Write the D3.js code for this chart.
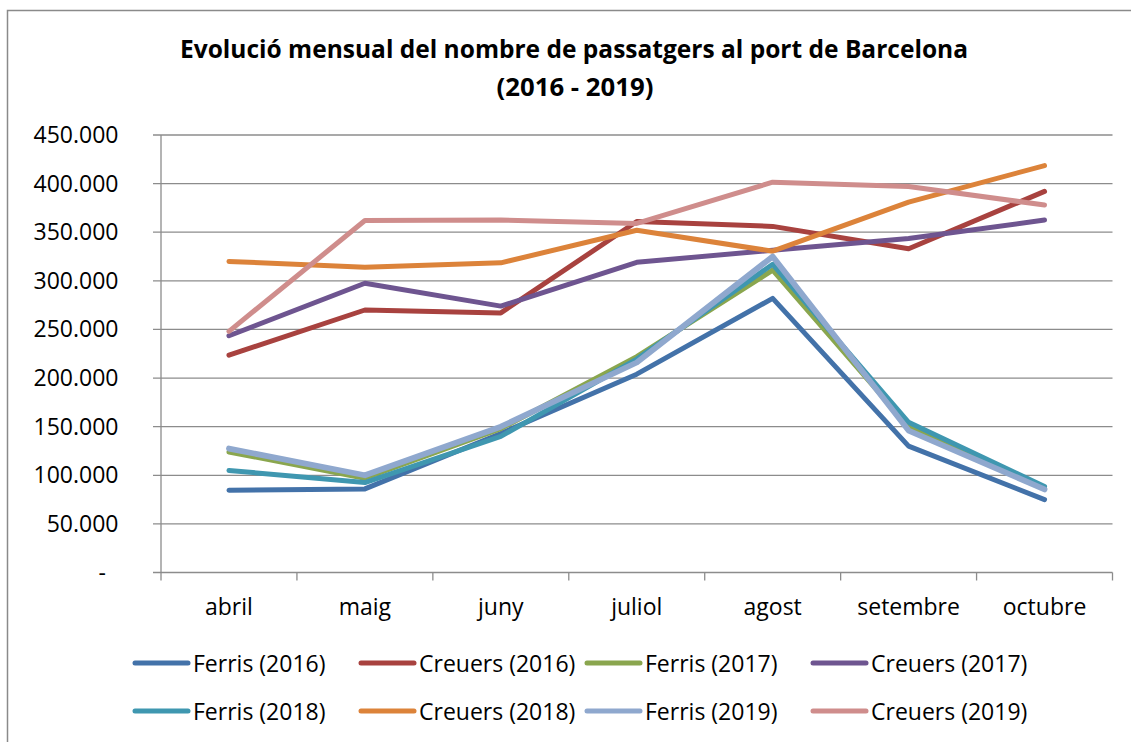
<!DOCTYPE html>
<html>
<head>
<meta charset="utf-8">
<script src="https://cdn.jsdelivr.net/npm/d3@7"></script>
<style>
  html, body { margin: 0; padding: 0; background: #fff; }
  svg { display: block; }
  text { font-family: "Open Sans", "Noto Sans", sans-serif; fill: #000; }
</style>
</head>
<body>
<svg id="chart" width="1131" height="742"></svg>
<script>
const months = ["abril", "maig", "juny", "juliol", "agost", "setembre", "octubre"];
const yTicks = [0, 50000, 100000, 150000, 200000, 250000, 300000, 350000, 400000, 450000];

const ferris2016  = [84600, 86000, 143000, 204000, 282000, 130000, 75000];
const creuers2016 = [223500, 270000, 267000, 361000, 356000, 333000, 392000];
const ferris2017  = [124000, 97000, 148000, 222000, 311000, 150000, 86000];
const creuers2017 = [243500, 297500, 274000, 319000, 331500, 343500, 362500];
const ferris2018  = [105000, 92500, 140000, 219500, 317000, 154500, 88500];
const creuers2018 = [320000, 314000, 318500, 352000, 330500, 381000, 418500];
const ferris2019  = [127500, 100000, 150000, 216000, 325000, 146000, 85500];
const creuers2019 = [248000, 362000, 362500, 359000, 401500, 397000, 378000];

const seriesNames = ["Ferris (2016)", "Creuers (2016)", "Ferris (2017)", "Creuers (2017)",
                     "Ferris (2018)", "Creuers (2018)", "Ferris (2019)", "Creuers (2019)"];
const seriesValues = [ferris2016, creuers2016, ferris2017, creuers2017,
                      ferris2018, creuers2018, ferris2019, creuers2019];
const seriesColors = ["#4372A9", "#A8423F", "#8AA64E", "#6E5590",
                      "#3F97B0", "#DC833A", "#8FA8CE", "#CF8D8C"];

const svg = d3.select("#chart");

// outer border
svg.append("rect").attr("x", 7.5).attr("y", 10.5).attr("width", 1140).attr("height", 760)
  .attr("fill", "none").attr("stroke", "#8a8a8a").attr("stroke-width", 1.5);

const plotLeft = 161, plotRight = 1112.5, plotTop = 135, plotBottom = 572.5;

const x = d3.scaleBand().domain(months).range([plotLeft, plotRight]);
const y = d3.scaleLinear().domain([0, 450000]).range([plotBottom, plotTop]);

const fmt = v => v === 0 ? "-" : d3.format(",")(v).replace(/,/g, ".");

// gridlines + y ticks
const gy = svg.append("g");
gy.selectAll("line.grid").data(yTicks).join("line")
  .attr("x1", plotLeft - 8).attr("x2", plotRight)
  .attr("y1", d => y(d)).attr("y2", d => y(d))
  .attr("stroke", "#8c8c8c").attr("stroke-width", 1.3);

// y axis line
svg.append("line").attr("x1", plotLeft).attr("x2", plotLeft).attr("y1", plotTop).attr("y2", plotBottom)
  .attr("stroke", "#8c8c8c").attr("stroke-width", 1.3);

// y labels
gy.selectAll("text").data(yTicks).join("text")
  .attr("x", d => d === 0 ? 106 : 118.5)
  .attr("y", d => y(d) + 8)
  .attr("text-anchor", "end")
  .attr("font-size", 23)
  .text(fmt);

// x axis ticks (band boundaries)
const bounds = months.map(m => x(m)).concat([plotRight]);
svg.append("g").selectAll("line").data(bounds).join("line")
  .attr("x1", d => d).attr("x2", d => d).attr("y1", plotBottom).attr("y2", plotBottom + 8)
  .attr("stroke", "#8c8c8c").attr("stroke-width", 1.3);

// x labels
svg.append("g").selectAll("text").data(months).join("text")
  .attr("x", d => x(d) + x.bandwidth() / 2)
  .attr("y", 615)
  .attr("text-anchor", "middle")
  .attr("font-size", 23)
  .text(d => d);

// lines
const line = d3.line()
  .x((d, i) => x(months[i]) + x.bandwidth() / 2)
  .y(d => y(d));

svg.append("g").selectAll("path").data(seriesValues).join("path")
  .attr("d", d => line(d))
  .attr("fill", "none")
  .attr("stroke", (d, i) => seriesColors[i])
  .attr("stroke-width", (d, i) => i === 6 ? 5.8 : 5)
  .attr("stroke-linecap", "round")
  .attr("stroke-linejoin", "round");

// title
svg.append("text").attr("x", 574).attr("y", 58).attr("text-anchor", "middle")
  .attr("font-size", 25).attr("font-weight", "bold")
  .attr("textLength", 788).attr("lengthAdjust", "spacingAndGlyphs")
  .text("Evolució mensual del nombre de passatgers al port de Barcelona");
svg.append("text").attr("x", 575).attr("y", 96).attr("text-anchor", "middle")
  .attr("font-size", 25).attr("font-weight", "bold")
  .attr("textLength", 157).attr("lengthAdjust", "spacingAndGlyphs")
  .text("(2016 - 2019)");

// legend
const legendX = [133, 359, 585, 811];
const legendY = [663, 711];
const lg = svg.append("g").selectAll("g").data(seriesNames).join("g")
  .attr("transform", (d, i) => `translate(${legendX[i % 4]},${legendY[Math.floor(i / 4)]})`);
lg.append("line").attr("x1", 2).attr("x2", 55).attr("y1", 0).attr("y2", 0)
  .attr("stroke", (d, i) => seriesColors[i]).attr("stroke-width", 5)
  .attr("stroke-linecap", "round");
lg.append("text").attr("x", 60).attr("y", 8.5).attr("font-size", 23).text(d => d);
</script>
</body>
</html>
